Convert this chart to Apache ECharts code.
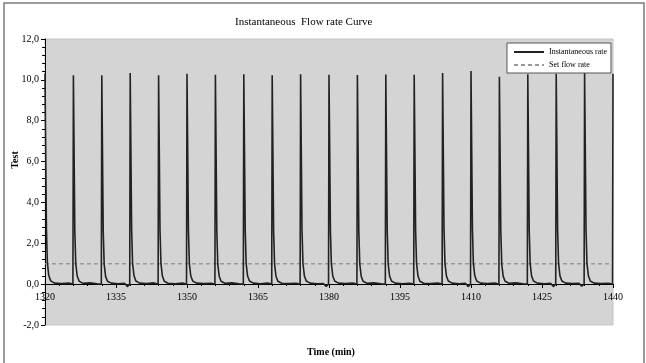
<!DOCTYPE html>
<html>
<head>
<meta charset="utf-8">
<script src="https://cdn.jsdelivr.net/npm/echarts@6/dist/echarts.min.js"></script>
<style>
  html, body { margin: 0; padding: 0; background: #fff; }
  #chart { width: 646px; height: 363px; }
</style>
</head>
<body>
<div id="chart"></div>
<script>
// time (min) / instantaneous rate pairs
var instRate = [
  [1320, 10.31], [1320.3, 2.7], [1320.5, 1.05], [1320.8, 0.42], [1321.2, 0.16], [1322, 0.05], [1323.5, 0.03], [1325, 0.05],
  [1325.9, 0.01], [1326, 10.23], [1326.3, 2.6], [1326.5, 1.0], [1326.8, 0.4], [1327.2, 0.15], [1328, 0.04], [1329.5, 0.06], [1331, 0.02],
  [1331.9, 0.0], [1332, 10.23], [1332.3, 2.6], [1332.5, 0.98], [1332.8, 0.38], [1333.2, 0.14], [1334, 0.05], [1335.5, 0.02], [1336.8, 0.04],
  [1337.4, -0.12], [1337.9, 0.0], [1338, 10.34], [1338.3, 2.7], [1338.5, 1.02], [1338.8, 0.41], [1339.2, 0.15], [1340, 0.05], [1341.5, 0.03], [1343, 0.06],
  [1343.9, 0.01], [1344, 10.23], [1344.3, 2.6], [1344.5, 1.0], [1344.8, 0.4], [1345.2, 0.14], [1346, 0.04], [1347.5, 0.02], [1349, 0.05],
  [1349.9, 0.0], [1350, 10.30], [1350.3, 2.65], [1350.5, 1.01], [1350.8, 0.4], [1351.2, 0.15], [1352, 0.05], [1353.5, 0.03], [1355, 0.04],
  [1355.9, 0.01], [1356, 10.25], [1356.3, 2.6], [1356.5, 0.99], [1356.8, 0.39], [1357.2, 0.14], [1358, 0.04], [1359.5, 0.06], [1361, 0.02],
  [1361.9, 0.0], [1362, 10.27], [1362.3, 2.62], [1362.5, 1.0], [1362.8, 0.4], [1363.2, 0.15], [1364, 0.05], [1365.5, 0.02], [1367, 0.05],
  [1367.9, 0.01], [1368, 10.22], [1368.3, 2.58], [1368.5, 0.98], [1368.8, 0.39], [1369.2, 0.14], [1370, 0.04], [1371.5, 0.03], [1373, 0.04],
  [1373.9, 0.0], [1374, 10.28], [1374.3, 2.63], [1374.5, 1.01], [1374.8, 0.4], [1375.2, 0.15], [1376, 0.05], [1377.5, 0.02], [1378.8, 0.03],
  [1379.4, -0.11], [1379.9, 0.0], [1380, 10.25], [1380.3, 2.6], [1380.5, 1.0], [1380.8, 0.4], [1381.2, 0.15], [1382, 0.05], [1383.5, 0.03], [1385, 0.05],
  [1385.9, 0.01], [1386, 10.24], [1386.3, 2.6], [1386.5, 0.99], [1386.8, 0.39], [1387.2, 0.14], [1388, 0.04], [1389.5, 0.06], [1391, 0.02],
  [1391.9, 0.0], [1392, 10.26], [1392.3, 2.62], [1392.5, 1.0], [1392.8, 0.4], [1393.2, 0.15], [1394, 0.05], [1395.5, 0.02], [1397, 0.04],
  [1397.9, 0.01], [1398, 10.25], [1398.3, 2.6], [1398.5, 1.0], [1398.8, 0.4], [1399.2, 0.14], [1400, 0.04], [1401.5, 0.03], [1403, 0.05],
  [1403.9, 0.0], [1404, 10.34], [1404.3, 2.68], [1404.5, 1.02], [1404.8, 0.41], [1405.2, 0.15], [1406, 0.05], [1407.5, 0.02], [1408.8, 0.04],
  [1409.4, -0.12], [1409.9, 0.0], [1410, 10.43], [1410.3, 2.72], [1410.5, 1.03], [1410.8, 0.41], [1411.2, 0.15], [1412, 0.05], [1413.5, 0.03], [1415, 0.05],
  [1415.9, 0.01], [1416, 10.15], [1416.3, 2.55], [1416.5, 0.97], [1416.8, 0.38], [1417.2, 0.14], [1418, 0.04], [1419.5, 0.06], [1421, 0.02],
  [1421.9, 0.0], [1422, 10.28], [1422.3, 2.63], [1422.5, 1.0], [1422.8, 0.4], [1423.2, 0.15], [1424, 0.05], [1425.5, 0.02], [1426.8, 0.04],
  [1427.4, -0.12], [1427.9, 0.0], [1428, 10.30], [1428.3, 2.65], [1428.5, 1.01], [1428.8, 0.4], [1429.2, 0.15], [1430, 0.05], [1431.5, 0.03], [1432.8, 0.04],
  [1433.4, -0.10], [1433.9, 0.0], [1434, 10.33], [1434.3, 2.67], [1434.5, 1.02], [1434.8, 0.41], [1435.2, 0.15], [1436, 0.05], [1437.5, 0.03], [1439, 0.04],
  [1439.9, 0.0], [1440, 10.3]
];
var setFlow = [[1320, 1.0], [1440, 1.0]];
var seriesNames = ['Instantaneous rate', 'Set flow rate'];

var serif = 'Liberation Serif';
var chart = echarts.init(document.getElementById('chart'));

var option = {
  backgroundColor: '#fff',
  animation: false,
  title: {
    text: 'Instantaneous  Flow rate Curve',
    left: 230,
    top: 12,
    textStyle: { fontFamily: serif, fontSize: 11, fontWeight: 'normal', color: '#000' }
  },
  legend: {
    data: seriesNames,
    orient: 'vertical',
    left: 507,
    top: 43,
    padding: [5, 4, 4, 6],
    itemGap: 5,
    itemWidth: 30,
    itemHeight: 10,
    backgroundColor: '#fff',
    borderColor: '#555',
    borderWidth: 1,
    itemStyle: { opacity: 0 },
    lineStyle: { inactiveColor: '#ccc' },
    textStyle: { fontFamily: serif, fontSize: 8, color: '#000' }
  },
  grid: [
    {
      left: 45, right: 33, top: 39, bottom: 38,
      show: true,
      backgroundColor: '#d4d4d4',
      borderColor: '#c4c4c4',
      borderWidth: 1
    },
    // second grid only carries the x axis drawn along the y = 0 line
    { left: 45, right: 33, top: 39, bottom: 79 }
  ],
  xAxis: [
    { type: 'value', gridIndex: 0, min: 1320, max: 1440, interval: 15, show: false },
    {
      type: 'value', gridIndex: 1,
      min: 1320, max: 1440, interval: 15,
      axisLine: { onZero: false, lineStyle: { color: '#000', width: 1 } },
      axisTick: { length: 4, lineStyle: { color: '#000' } },
      minorTick: { show: true, splitNumber: 5, length: 2, lineStyle: { color: '#000' } },
      splitLine: { show: false },
      axisLabel: {
        margin: 8, fontFamily: serif, fontSize: 10, color: '#000',
        formatter: function (v) { return String(v); }
      }
    }
  ],
  yAxis: [
    {
      type: 'value', gridIndex: 0,
      min: -2, max: 12, interval: 2,
      axisLine: { show: true, lineStyle: { color: '#000', width: 1 } },
      axisTick: { show: true, length: 4, lineStyle: { color: '#000' } },
      minorTick: { show: true, splitNumber: 5, length: 3, lineStyle: { color: '#000' } },
      splitLine: { show: false },
      axisLabel: {
        margin: 6, fontFamily: serif, fontSize: 10, color: '#000',
        formatter: function (v) { return v.toFixed(1).replace('.', ','); }
      }
    },
    { type: 'value', gridIndex: 1, min: 0, max: 12, show: false }
  ],
  graphic: [
    {
      type: 'rect', silent: true, z: -1,
      shape: { x: 4, y: 3, width: 640, height: 400 },
      style: { fill: 'none', stroke: '#7a7a7a', lineWidth: 1.5 }
    },
    {
      type: 'text', x: 15, y: 160, rotation: Math.PI / 2,
      style: { text: 'Test', fontFamily: serif, fontSize: 10, fontWeight: 'bold', fill: '#000', align: 'center', verticalAlign: 'middle' }
    },
    {
      type: 'text', x: 331, y: 352,
      style: { text: 'Time (min)', fontFamily: serif, fontSize: 10, fontWeight: 'bold', fill: '#000', align: 'center', verticalAlign: 'middle' }
    }
  ],
  series: [
    {
      name: seriesNames[0],
      type: 'line',
      xAxisIndex: 0, yAxisIndex: 0,
      data: instRate,
      symbol: 'none',
      z: 3,
      lineStyle: { color: '#222', width: 1.6 },
      itemStyle: { color: '#222' }
    },
    {
      name: seriesNames[1],
      type: 'line',
      xAxisIndex: 0, yAxisIndex: 0,
      data: setFlow,
      symbol: 'none',
      z: 2,
      lineStyle: { color: '#999', width: 1.5, type: [4, 3] },
      itemStyle: { color: '#999' }
    }
  ]
};
chart.setOption(option);
</script>
</body>
</html>
